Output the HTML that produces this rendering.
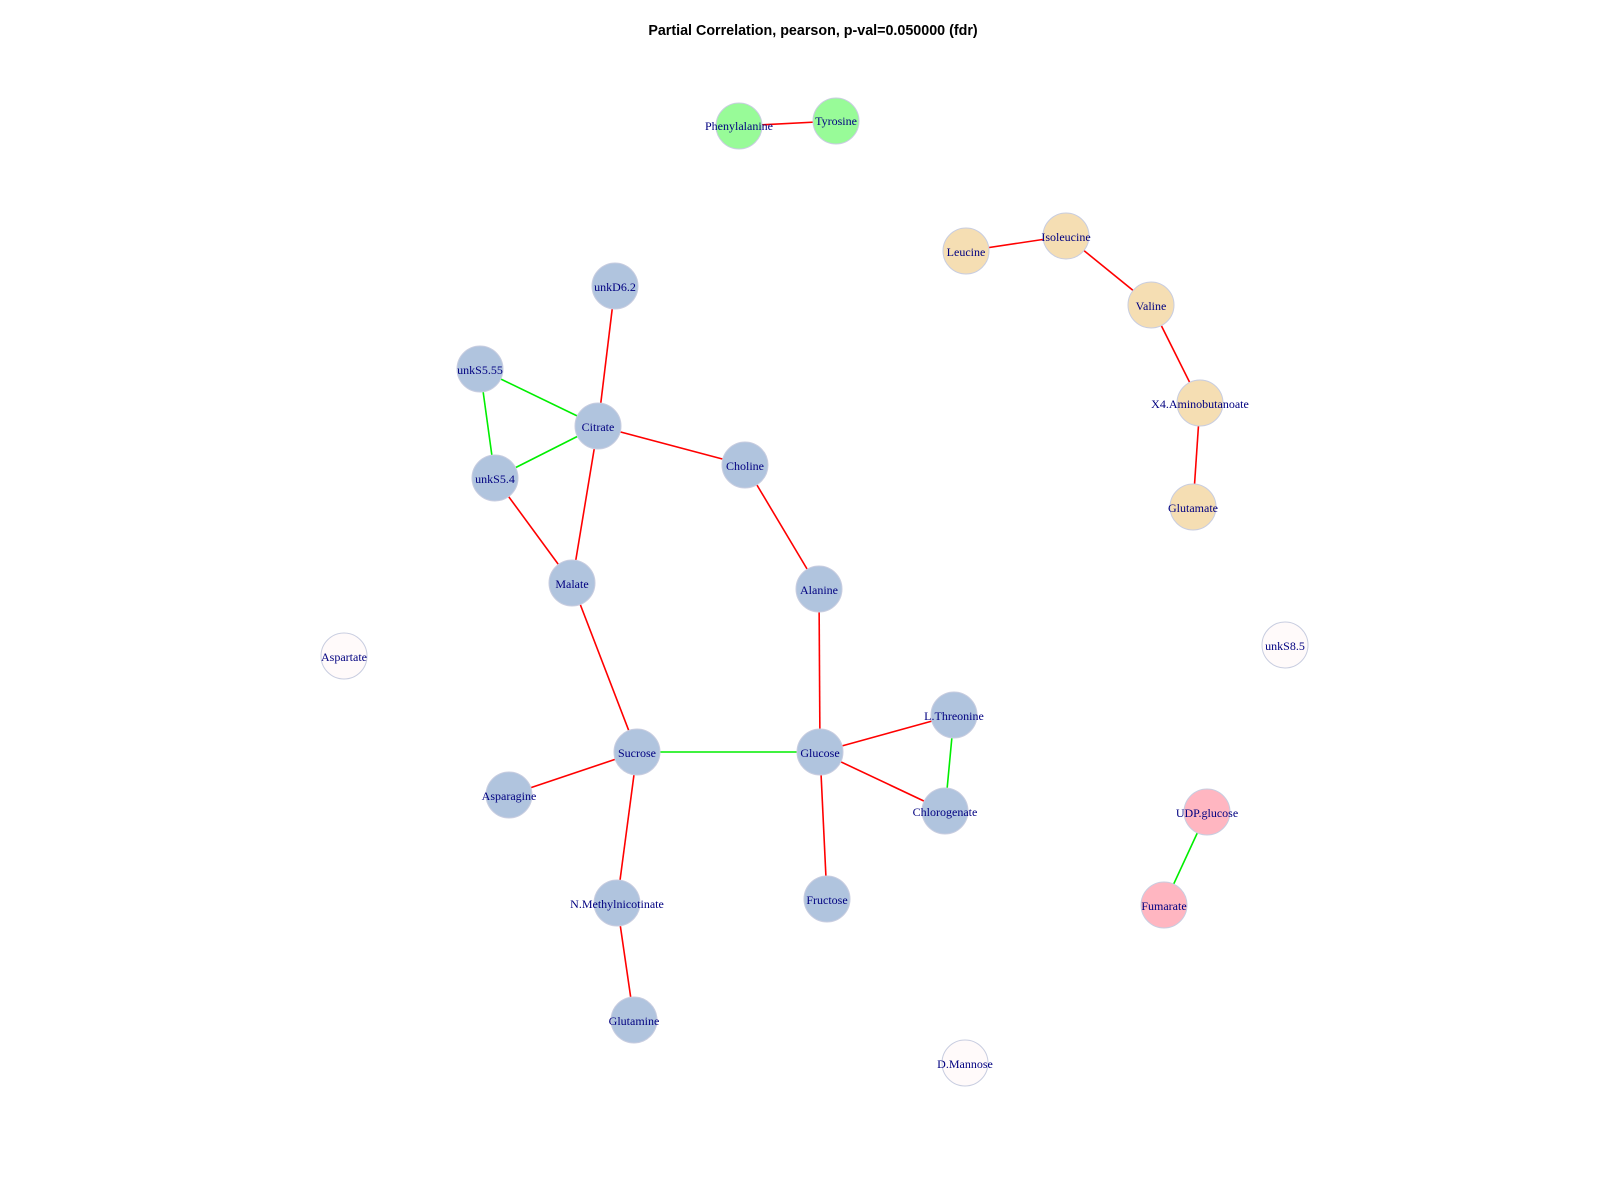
<!DOCTYPE html>
<html><head><meta charset="utf-8"><style>body{margin:0;background:#fff}svg{display:block}</style></head><body>
<svg width="1600" height="1200" xmlns="http://www.w3.org/2000/svg">
<rect width="1600" height="1200" fill="#fff"/>
<text x="813" y="35" text-anchor="middle" font-family="Liberation Sans, sans-serif" font-weight="bold" font-size="14.3">Partial Correlation, pearson, p-val=0.050000 (fdr)</text>
<g stroke-width="1.6" fill="none">
<g stroke="#ff0000">
<line x1="739" y1="126" x2="836" y2="121"/>
<line x1="966" y1="251" x2="1066" y2="236"/>
<line x1="1066" y1="236" x2="1151" y2="305"/>
<line x1="1151" y1="305" x2="1200" y2="403"/>
<line x1="1200" y1="403" x2="1193" y2="507"/>
<line x1="615" y1="286" x2="598" y2="426"/>
<line x1="598" y1="426" x2="745" y2="465"/>
<line x1="598" y1="426" x2="572" y2="583"/>
<line x1="495" y1="478" x2="572" y2="583"/>
<line x1="745" y1="465" x2="819" y2="589"/>
<line x1="572" y1="583" x2="637" y2="752"/>
<line x1="819" y1="589" x2="820" y2="752"/>
<line x1="820" y1="752" x2="954" y2="715"/>
<line x1="820" y1="752" x2="945" y2="811"/>
<line x1="820" y1="752" x2="827" y2="899"/>
<line x1="637" y1="752" x2="509" y2="795"/>
<line x1="637" y1="752" x2="617" y2="903"/>
<line x1="617" y1="903" x2="634" y2="1020"/>
</g>
<g stroke="#00ee00">
<line x1="480" y1="369" x2="598" y2="426"/>
<line x1="480" y1="369" x2="495" y2="478"/>
<line x1="495" y1="478" x2="598" y2="426"/>
<line x1="637" y1="752" x2="820" y2="752"/>
<line x1="954" y1="715" x2="945" y2="811"/>
<line x1="1207" y1="812" x2="1164" y2="905"/>
</g>
</g>
<g stroke="#c8cde0" stroke-width="1">
<g fill="#98fb98"><circle cx="739" cy="126" r="23"/><circle cx="836" cy="121" r="23"/></g>
<g fill="#f5deb3"><circle cx="966" cy="251" r="23"/><circle cx="1066" cy="236" r="23"/><circle cx="1151" cy="305" r="23"/><circle cx="1200" cy="403" r="23"/><circle cx="1193" cy="507" r="23"/></g>
<g fill="#b0c4de"><circle cx="615" cy="286" r="23"/><circle cx="480" cy="369" r="23"/><circle cx="598" cy="426" r="23"/><circle cx="495" cy="478" r="23"/><circle cx="745" cy="465" r="23"/><circle cx="572" cy="583" r="23"/><circle cx="819" cy="589" r="23"/><circle cx="954" cy="715" r="23"/><circle cx="637" cy="752" r="23"/><circle cx="820" cy="752" r="23"/><circle cx="509" cy="795" r="23"/><circle cx="945" cy="811" r="23"/><circle cx="827" cy="899" r="23"/><circle cx="617" cy="903" r="23"/><circle cx="634" cy="1020" r="23"/></g>
<g fill="#ffb6c1"><circle cx="1207" cy="812" r="23"/><circle cx="1164" cy="905" r="23"/></g>
<g fill="#fffafa"><circle cx="344" cy="656" r="23"/><circle cx="1285" cy="645" r="23"/><circle cx="965" cy="1063" r="23"/></g>
</g>
<g font-family="Liberation Serif, serif" font-size="12" fill="#000080" text-anchor="middle">
<text x="739" y="130">Phenylalanine</text><text x="836" y="125">Tyrosine</text>
<text x="966" y="256">Leucine</text><text x="1066" y="241">Isoleucine</text><text x="1151" y="310">Valine</text><text x="1200" y="408">X4.Aminobutanoate</text><text x="1193" y="512">Glutamate</text>
<text x="615" y="291">unkD6.2</text><text x="480" y="374">unkS5.55</text><text x="598" y="431">Citrate</text><text x="495" y="483">unkS5.4</text><text x="745" y="470">Choline</text><text x="572" y="588">Malate</text><text x="819" y="594">Alanine</text><text x="954" y="720">L.Threonine</text><text x="637" y="757">Sucrose</text><text x="820" y="757">Glucose</text><text x="509" y="800">Asparagine</text><text x="945" y="816">Chlorogenate</text><text x="827" y="904">Fructose</text><text x="617" y="908">N.Methylnicotinate</text><text x="634" y="1025">Glutamine</text>
<text x="1207" y="817">UDP.glucose</text><text x="1164" y="910">Fumarate</text>
<text x="344" y="661">Aspartate</text><text x="1285" y="650">unkS8.5</text><text x="965" y="1068">D.Mannose</text>
</g>
</svg>
</body></html>
